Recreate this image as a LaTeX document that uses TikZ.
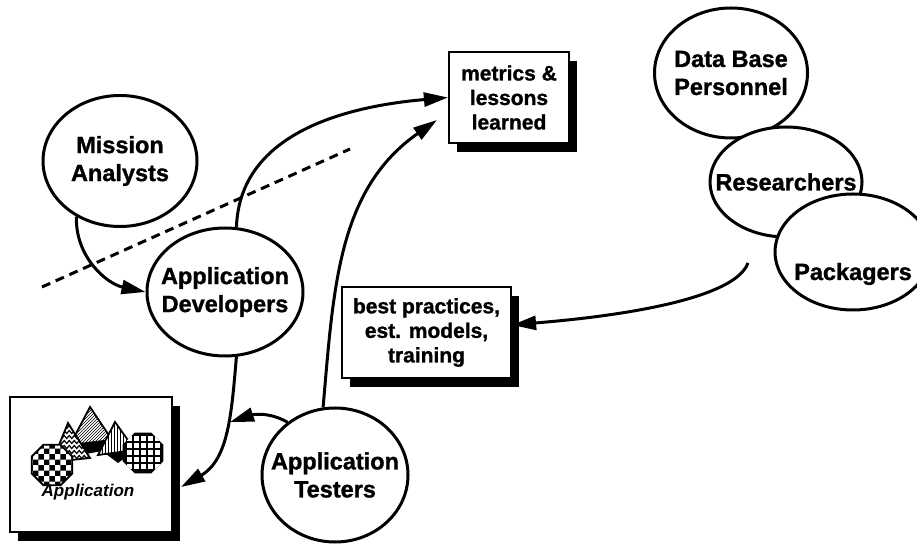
\documentclass[tikz,border=0pt]{standalone}
\usepackage{fontspec}
\setmainfont{Liberation Sans}[BoldFeatures={FakeBold=1.2}]
\usetikzlibrary{arrows.meta,shapes.geometric,shadows,patterns,decorations.pathmorphing}

\begin{document}
\begin{tikzpicture}[x=1pt,y=1pt,
    role/.style={draw, ellipse, line width=3pt, fill=white, inner xsep=-20pt, inner ysep=0pt,
      align=center, font=\bfseries\fontsize{23.5}{28}\selectfont},
    product/.style={draw, rectangle, line width=2.2pt, fill=white, inner sep=0pt, align=center,
      font=\bfseries\fontsize{21}{24.5}\selectfont,
      drop shadow={shadow xshift=8pt, shadow yshift=-9pt, fill=black, opacity=1}},
    flow/.style={line width=3pt, -{Triangle[length=24pt,width=14pt]}},
    peak/.style={draw, line width=1.8pt, preaction={fill=white}}]
    \useasboundingbox (0,0) rectangle (917,543);

    % People on the left
    \node[role, minimum width=154pt, minimum height=131pt] (ma) at (120,382) {Mission\\Analysts};
    \node[role, minimum width=156pt, minimum height=128pt] (ad) at (225,251) {Application\\Developers};
    \node[role, minimum width=146pt, minimum height=134pt] (at) at (335,68) {Application\\Testers};

    % People on the right
    \node[role, minimum width=153pt, minimum height=130pt] (db) at (731,470) {Data Base\\Personnel};
    \node[role, minimum width=152pt, minimum height=110pt] (rs) at (786,361) {Researchers};
    \node[role, minimum width=156pt, minimum height=116pt, text height=61pt, text depth=5pt] (pk) at (853,291) {Packagers};

    % Products
    \node[product, minimum width=120pt, minimum height=91pt] (met) at (509,445.5) {metrics \&\\lessons\\learned};
    \node[product, minimum width=169pt, minimum height=91pt] (best) at (426.5,210.5) {best practices,\\est. models,\\training};
    \node[product, minimum width=162pt, minimum height=135pt] (app) at (91,78.5) {};

    % Application logo
    \fill (74,98) -- (112,104) -- (126,86) -- (118,80) -- (102,92) -- (86,89) -- cycle;
    \draw[peak, pattern=north east lines] (90,136) -- (112,103) -- (70,98) -- cycle;
    \draw[peak, pattern=vertical lines] (115,121) -- (135,93) -- (98,88) -- cycle;
    \draw[peak] (68,120) -- (90,85) -- (52,81) -- cycle;
    \begin{scope}
      \clip (68,120) -- (90,85) -- (52,81) -- cycle;
      \foreach \k in {0,...,6}
        \draw[line width=1.2pt, decorate, decoration={zigzag, segment length=5pt, amplitude=1.5pt}]
          (48,86+\k*5) -- (94,86+\k*5);
    \end{scope}
    \node[regular polygon, regular polygon sides=8, minimum size=44pt, peak, pattern=checkerboard] (chk) at (52,78) {};
    \node[regular polygon, regular polygon sides=8, minimum size=42pt, draw, line width=1.8pt, fill=black] (grd) at (143,90) {};
    \begin{scope}
      \clip (grd.corner 1) -- (grd.corner 2) -- (grd.corner 3) -- (grd.corner 4)
        -- (grd.corner 5) -- (grd.corner 6) -- (grd.corner 7) -- (grd.corner 8) -- cycle;
      \foreach \i in {0,...,4}
        \foreach \j in {0,...,4}
          \fill[white] (127+\i*7,74+\j*7) rectangle ++(4.5,4.5);
    \end{scope}
    \node[font=\bfseries\itshape\fontsize{17}{20}\selectfont] (applbl) at (88,51) {Application};

    % Dashed divider
    \coordinate (cutA) at (42,256);
    \coordinate (cutB) at (350,394);
    \draw[line width=3pt, dash pattern=on 9pt off 6pt] (cutA) -- (cutB);

    % Free ends
    \coordinate (metin) at (437,423);
    \coordinate (pkout) at (748,280);
    \coordinate (appin) at (181,56);
    \coordinate (join) at (230,121);

    % Flows
    \draw[flow] (ma.232) to[out=-92, in=168] (ad.west);
    \draw[flow] (ad.80) to[out=88, in=185] (met.west);
    \draw[flow] (at.100) to[out=85, in=215] (metin);
    \draw[flow] (pkout) to[out=-110, in=5, looseness=0.5] (best.5);
    \draw[flow] (ad.-80) to[out=-95, in=30] (appin);
    \draw[flow] (at.132) to[out=150, in=18] (join);
\end{tikzpicture}
\end{document}
